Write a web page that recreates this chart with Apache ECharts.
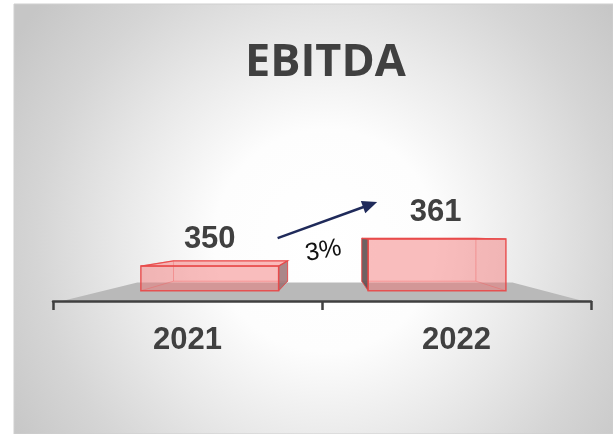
<!DOCTYPE html>
<html>
<head>
<meta charset="utf-8">
<script src="https://cdn.jsdelivr.net/npm/echarts@6/dist/echarts.min.js"></script>
<style>
  html, body { margin: 0; padding: 0; background: #fff; }
  #chart { width: 613px; height: 434px; }
</style>
</head>
<body>
<div id="chart"></div>
<script>
  const years = ["2021", "2022"];
  const ebitda = [350, 361];
  const axisMin = 340;
  const axisMax = 400;

  const chart = echarts.init(document.getElementById("chart"));

  // simple one-point perspective: everything shrinks toward a vanishing point
  const FRONT = 0.845; // front face of the bars
  const BACK = 0.70; // back face of the bars
  const FLOOR_BACK = 0.72;

  function vanish(cs) {
    return [cs.x + cs.width * 0.5167, cs.y + cs.height - 66];
  }
  function proj(v, p, k) {
    return [v[0] + k * (p[0] - v[0]), v[1] + k * (p[1] - v[1])];
  }

  function barBox(api, cs, idx, val) {
    const v = vanish(cs);
    const top = api.coord([idx, val]);
    const base = api.coord([idx, axisMin]);
    const half = (api.size([1, 0])[0] * 0.606) / 2;
    const plane = [
      [top[0] - half, top[1]],
      [top[0] + half, top[1]],
      [top[0] + half, base[1]],
      [top[0] - half, base[1]],
    ];
    return {
      f: plane.map((p) => proj(v, p, FRONT)),
      b: plane.map((p) => proj(v, p, BACK)),
    };
  }

  function line(a, c, style) {
    return { type: "line", shape: { x1: a[0], y1: a[1], x2: c[0], y2: c[1] }, style: style, silent: true };
  }
  function poly(pts, style) {
    return { type: "polygon", shape: { points: pts }, style: style, silent: true };
  }

  function renderFloor(params, api) {
    const cs = params.coordSys;
    const v = vanish(cs);
    const y = api.coord([0, axisMin])[1];
    const front = [
      [cs.x + 9, y],
      [cs.x + cs.width - 8, y],
    ];
    const back = front.map((p) => proj(v, p, FLOOR_BACK));
    return poly([front[0], back[0], back[1], front[1]], { fill: "#b9b9b9" });
  }

  function renderBar(params, api) {
    const cs = params.coordSys;
    const idx = api.value(0);
    const val = api.value(1);
    const { f, b } = barBox(api, cs, idx, val);
    const hidden = { stroke: "rgba(235,90,90,0.45)", lineWidth: 1 };
    const edge = { stroke: "rgba(232,72,72,0.9)", lineWidth: 1.5 };
    const children = [];

    // back edges, seen through the transparent faces
    for (let i = 0; i < 4; i++) {
      children.push(line(b[i], b[(i + 1) % 4], hidden));
      children.push(line(f[i], b[i], hidden));
    }
    // visible side faces
    if (b[0][0] < f[0][0]) {
      children.push(poly([f[0], b[0], b[3], f[3]], { fill: "rgba(85,70,72,0.85)", stroke: "rgba(232,72,72,0.8)", lineWidth: 1 }));
    }
    if (b[1][0] > f[1][0]) {
      children.push(poly([f[1], b[1], b[2], f[2]], { fill: "rgba(150,105,108,0.8)", stroke: "rgba(232,72,72,0.8)", lineWidth: 1 }));
    }
    if (b[0][1] < f[0][1]) {
      children.push(poly([f[0], b[0], b[1], f[1]], { fill: "rgba(245,130,130,0.55)", stroke: "rgba(232,72,72,0.9)", lineWidth: 1.2 }));
    }
    // front face
    children.push(poly(f, { fill: "rgba(245,110,110,0.45)", stroke: edge.stroke, lineWidth: edge.lineWidth }));

    // value label
    children.push({
      type: "text",
      silent: true,
      style: {
        x: (f[0][0] + f[1][0]) / 2 - 1.5 * idx,
        y: f[0][1] - 27,
        text: String(val),
        align: "center",
        verticalAlign: "middle",
        font: "bold 31px 'Liberation Sans', Arial, sans-serif",
        fill: "#404040",
      },
    });

    // growth arrow from the previous year
    if (idx > 0) {
      const prev = barBox(api, cs, idx - 1, ebitda[idx - 1]).f;
      const p0 = [prev[1][0] - 1, prev[0][1] - 28];
      const p1 = [f[0][0] + 9, f[0][1] - 37];
      const ang = Math.atan2(p1[1] - p0[1], p1[0] - p0[0]);
      const len = 15, w = 6.5;
      const baseX = p1[0] - len * Math.cos(ang), baseY = p1[1] - len * Math.sin(ang);
      const nx = -Math.sin(ang), ny = Math.cos(ang);
      children.push(line(p0, [baseX + 2 * Math.cos(ang), baseY + 2 * Math.sin(ang)], { stroke: "#1f2a5a", lineWidth: 2.6 }));
      children.push(poly([p1, [baseX + nx * w, baseY + ny * w], [baseX - nx * w, baseY - ny * w]], { fill: "#1f2a5a" }));
      const pct = Math.round(((val - ebitda[idx - 1]) / ebitda[idx - 1]) * 100);
      children.push({
        type: "text",
        silent: true,
        x: (p0[0] + p1[0]) / 2 - 4,
        y: (p0[1] + p1[1]) / 2 + 31,
        rotation: (10 * Math.PI) / 180,
        style: {
          x: 0,
          y: 0,
          text: pct + "%",
          align: "center",
          verticalAlign: "middle",
          font: "25px 'Liberation Sans', Arial, sans-serif",
          fill: "#111111",
        },
      });
    }
    return { type: "group", children: children };
  }

  const option = {
    backgroundColor: "#ffffff",
    animation: false,
    graphic: [
      {
        type: "rect",
        z: -10,
        silent: true,
        shape: { x: 14, y: 4, width: 599, height: 430 },
        style: {
          fill: new echarts.graphic.RadialGradient(0.52, 0.55, 0.86, [
            { offset: 0, color: "#ffffff" },
            { offset: 0.3, color: "#fdfdfd" },
            { offset: 0.56, color: "#e8e8e8" },
            { offset: 0.78, color: "#d5d5d5" },
            { offset: 1, color: "#c6c6c6" },
          ]),
          stroke: "#cfcfcf",
          lineWidth: 1,
        },
      },
    ],
    title: {
      text: "EBITDA",
      left: 245,
      top: 41,
      padding: 0,
      textStyle: { fontFamily: "Open Sans", fontWeight: "bold", fontSize: 45, color: "#404040" },
    },
    grid: { left: 53, right: 22, top: 126, bottom: 133, outerBoundsMode: "none" },
    xAxis: {
      type: "category",
      data: years,
      boundaryGap: true,
      axisLine: { lineStyle: { color: "#404040", width: 2.5 } },
      axisTick: { show: true, length: 9, lineStyle: { color: "#404040", width: 2.5 } },
      axisLabel: { margin: 24, fontSize: 31, fontWeight: "bold", color: "#404040", fontFamily: "Liberation Sans" },
      z: 5,
    },
    yAxis: { type: "value", min: axisMin, max: axisMax, show: false, splitLine: { show: false } },
    series: [
      {
        type: "custom",
        name: "floor",
        renderItem: renderFloor,
        data: [[0, axisMin]],
        z: 1,
        silent: true,
      },
      {
        type: "custom",
        name: "EBITDA",
        renderItem: renderBar,
        data: ebitda.map((v, i) => [i, v]),
        z: 3,
      },
    ],
  };
  chart.setOption(option);
</script>
</body>
</html>
